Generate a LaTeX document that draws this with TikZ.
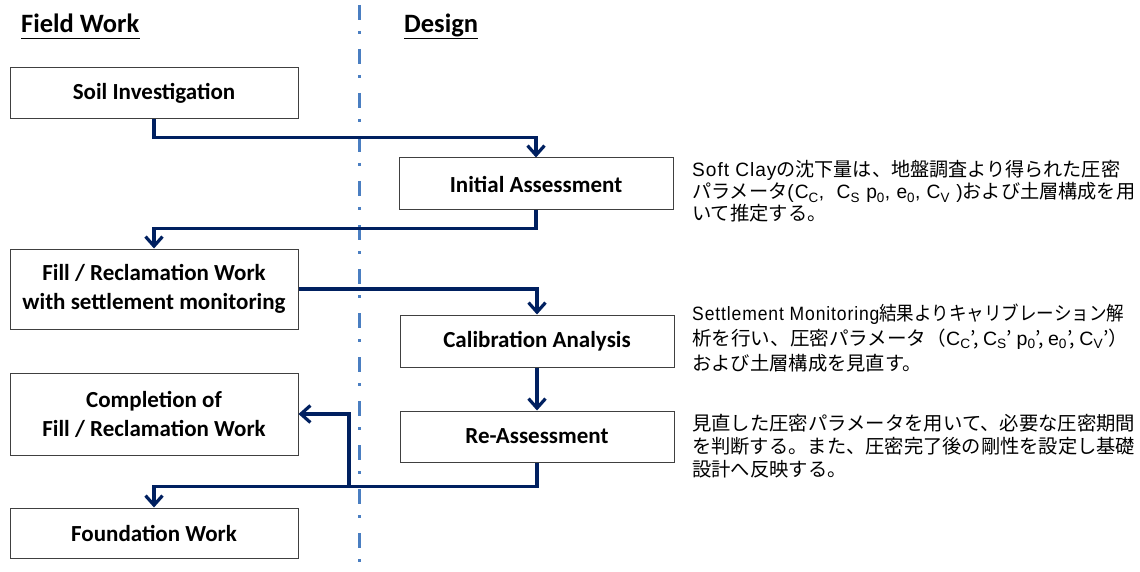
\documentclass[tikz,border=0pt]{standalone}
\usepackage{fontspec}
\usepackage{graphicx}
\setmainfont{Carlito}
\newfontfamily\jp{Noto Sans CJK JP}
\newfontfamily\ar[LetterSpace=5]{Liberation Sans}
\usetikzlibrary{arrows.meta}
\definecolor{navy}{RGB}{0,32,96}
\definecolor{dashblue}{RGB}{74,126,193}
\definecolor{boxline}{RGB}{64,64,64}
\newcommand\sbs[1]{\textsubscript{#1}}
\newcommand\fitw[2]{\resizebox{#1}{\height}{#2}}
\begin{document}
\begin{tikzpicture}[x=1pt,y=-1pt,
  box/.style={draw=boxline, line width=1pt, inner sep=0pt, align=center,
    font=\fontsize{23}{29}\selectfont\bfseries},
  flow/.style={draw=navy, line width=3.2pt, -{Straight Barb[length=9.5pt,width=17pt]}},
  ann/.style={anchor=base west, inner sep=0pt, font=\jp\fontsize{19.3}{22}\selectfont},
  head/.style={anchor=base west, inner sep=0pt, font=\fontsize{26.5}{30}\selectfont\bfseries},
  uline/.style={line width=1.6pt},
  divider/.style={dashblue, line width=3pt, dash pattern=on 15pt off 11pt on 3pt off 15pt}]
\useasboundingbox (0,0) rectangle (1140,572);
\fill[white] (0,0) rectangle (1140,572);

% divider
\coordinate (dtop) at (359,5);
\coordinate (dbot) at (359,572);
\draw[divider] (dtop) -- (dbot);

% headings
\node[head] (fw) at (21,33) {Field Work};
\node[head] (ds) at (404,33) {Design};
\draw[uline] ([yshift=-5.5pt]fw.base west) -- ([yshift=-5.5pt]fw.base east);
\draw[uline] ([yshift=-5.5pt]ds.base west) -- ([yshift=-5.5pt]ds.base east);

% boxes
\node[box, minimum width=288pt, minimum height=51pt] (soil) at (154,93.5) {Soil Investigation};
\node[box, minimum width=274pt, minimum height=52pt] (init) at (536,184) {Initial Assessment};
\node[box, minimum width=288pt, minimum height=80pt] (fill) at (154,289) {Fill / Reclamation Work\\with settlement monitoring};
\node[box, minimum width=274pt, minimum height=52pt] (calib) at (537,341) {Calibration Analysis};
\node[box, minimum width=274pt, minimum height=51pt] (reass) at (537,436.5) {Re-Assessment};
\node[box, minimum width=288pt, minimum height=82pt] (compl) at (154,414) {Completion of\\Fill / Reclamation Work};
\node[box, minimum width=288pt, minimum height=50pt] (found) at (154,533) {Foundation Work};

% connectors
\draw[flow] (soil.south) -- ++(0,18) -| (init.north);
\draw[flow] (init.south) -- ++(0,18) -| (fill.north);
\draw[flow] (fill.east) -| (calib.north);
\draw[flow] (calib.south) -- (reass.north);
\draw[flow] (reass.south) -- ++(0,24) -| (found.north);
\coordinate (br) at (349,486);
\draw[flow] (br) |- (compl.east);

% annotations
\node[ann] (a1) at (692,177) {\fitw{428pt}{{\ar Soft Clay}の沈下量は、地盤調査より得られた圧密}};
\node[ann] (a2) at (692,199) {\fitw{443pt}{パラメータ{\ar (C\sbs{C},\ \ C\sbs{S} p\sbs{0}, e\sbs{0}, C\sbs{V} )}および土層構成を用}};
\node[ann] (a3) at (692,221) {いて推定する。};

\node[ann] (b1) at (692,320) {\fitw{432pt}{{\ar Settlement Monitoring}結果よりキャリブレーション解}};
\node[ann] (b2) at (692,345) {\fitw{436pt}{析を行い、圧密パラメータ（{\ar C\sbs{C}}’, {\ar C\sbs{S}}’ {\ar p\sbs{0}}’, {\ar e\sbs{0}}’, {\ar C\sbs{V}}’）}};
\node[ann] (b3) at (692,370) {および土層構成を見直す。};

\node[ann] (c1) at (692,430) {\fitw{443pt}{見直した圧密パラメータを用いて、必要な圧密期間}};
\node[ann] (c2) at (692,453) {\fitw{443pt}{を判断する。また、圧密完了後の剛性を設定し基礎}};
\node[ann] (c3) at (692,476) {設計へ反映する。};
\end{tikzpicture}
\end{document}
